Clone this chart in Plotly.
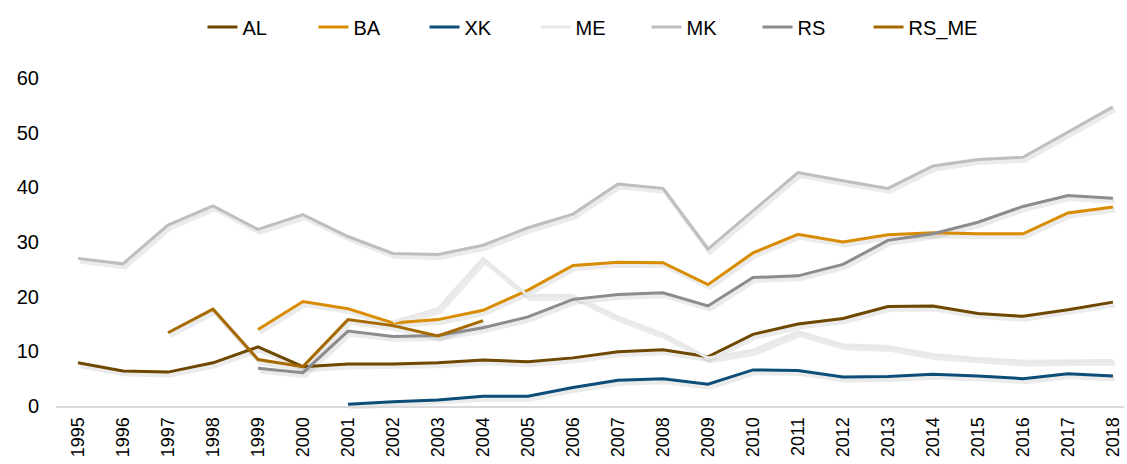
import plotly.graph_objects as go

years = [1995, 1996, 1997, 1998, 1999, 2000, 2001, 2002, 2003, 2004, 2005, 2006,
         2007, 2008, 2009, 2010, 2011, 2012, 2013, 2014, 2015, 2016, 2017, 2018]
year_labels = [str(y) for y in years]

AL = [7.9, 6.4, 6.2, 7.9, 10.8, 7.2, 7.7, 7.7, 7.9, 8.4, 8.1, 8.8,
      9.9, 10.3, 9.0, 13.1, 15.0, 16.0, 18.2, 18.3, 16.9, 16.4, 17.6, 19.0]
BA = [None, None, None, None, 14.0, 19.1, 17.8, 15.2, 15.8, 17.5, 21.2, 25.7,
      26.3, 26.2, 22.2, 28.0, 31.4, 30.0, 31.3, 31.7, 31.5, 31.5, 35.3, 36.4]
XK = [None, None, None, None, None, None, 0.3, 0.8, 1.1, 1.8, 1.8, 3.4,
      4.7, 5.0, 4.0, 6.6, 6.5, 5.3, 5.4, 5.8, 5.5, 5.0, 5.9, 5.5]
ME = [None, None, None, None, None, None, None, 15.4, 17.8, 27.0, 20.2, 20.2,
      16.3, 13.2, 8.8, 10.2, 13.6, 11.2, 10.9, 9.4, 8.7, 8.2, 8.3, 8.3]
MK = [27.0, 26.0, 33.1, 36.6, 32.3, 35.0, 31.0, 27.9, 27.7, 29.4, 32.6, 35.1,
      40.6, 39.8, 28.7, 35.7, 42.7, 41.2, 39.8, 43.9, 45.1, 45.5, 50.1, 54.7]
RS = [None, None, None, None, 6.9, 6.1, 13.7, 12.7, 12.9, 14.3, 16.3, 19.5,
      20.4, 20.7, 18.3, 23.5, 23.8, 25.9, 30.3, 31.5, 33.6, 36.5, 38.5, 38.0]
RS_ME = [None, None, 13.4, 17.7, 8.5, 7.2, 15.8, 14.7, 12.8, 15.6, None, None,
         None, None, None, None, None, None, None, None, None, None, None, None]

series_names = ["AL", "BA", "XK", "ME", "MK", "RS", "RS_ME"]
series_values = [AL, BA, XK, ME, MK, RS, RS_ME]
colors = ["#6E4700", "#D98C00", "#0D4E79", "#E8E8E8", "#BEBEC0", "#8C8C8F", "#A66900"]

FONT = "Arial, Liberation Sans, sans-serif"
W, H = 1127, 464
ML, MR, MT, MB = 56, 1, 67, 55
PW = W - ML - MR
PH = H - MT - MB
dx = 2 / PW
dy = 3 / PH

x_range = [1994.5116, 2018.246]
y_range = [0, 62]

fig = go.Figure()

# soft shadows (drawn on an offset copy of the axes, underneath)
for name, vals in zip(series_names, series_values):
    fig.add_trace(go.Scatter(
        x=years, y=vals, mode="lines", showlegend=False, hoverinfo="skip",
        line=dict(color="rgba(0,0,0,0.08)", width=5),
        xaxis="x", yaxis="y",
    ))

for name, vals, col in zip(series_names, series_values, colors):
    fig.add_trace(go.Scatter(
        x=years, y=vals, mode="lines", name=name,
        line=dict(color=col, width=3),
        xaxis="x2", yaxis="y2",
    ))

fig.update_layout(
    width=W, height=H,
    margin=dict(l=ML, r=MR, t=MT, b=MB, autoexpand=False),
    paper_bgcolor="white", plot_bgcolor="rgba(0,0,0,0)",
    font=dict(family=FONT, size=20, color="#1a1a1a"),
    showlegend=True,
    legend=dict(
        orientation="h", x=0.5, xanchor="center", y=1 + 40 / PH, yanchor="middle",
        font=dict(size=20, color="#000000"),
        entrywidth=66, entrywidthmode="pixels", itemwidth=30,
        traceorder="normal",
    ),
    xaxis=dict(domain=[dx, 1], range=x_range, visible=False, anchor="y"),
    yaxis=dict(domain=[0, 1 - dy], range=y_range, visible=False, anchor="x"),
    xaxis2=dict(
        domain=[0, 1 - dx], range=x_range, anchor="y2", automargin=False,
        tickmode="array", tickvals=years, ticktext=year_labels,
        tickangle=-90, tickfont=dict(size=18, color="#000000"),
        showgrid=False, zeroline=False, showline=True,
        linecolor="#D9D9D9", linewidth=2, ticks="",
        ticklabelstandoff=2,
    ),
    yaxis2=dict(
        domain=[dy, 1], range=y_range, anchor="x2", automargin=False,
        tickmode="array", tickvals=[0, 10, 20, 30, 40, 50, 60],
        tickfont=dict(size=20, color="#000000"),
        showgrid=False, zeroline=False, showline=False, ticks="",
        ticklabelstandoff=16,
    ),
)

fig.write_html(
    "out.html",
    config={"displayModeBar": False},
    post_script="document.body.style.margin='0';document.body.style.overflow='hidden';",
)
